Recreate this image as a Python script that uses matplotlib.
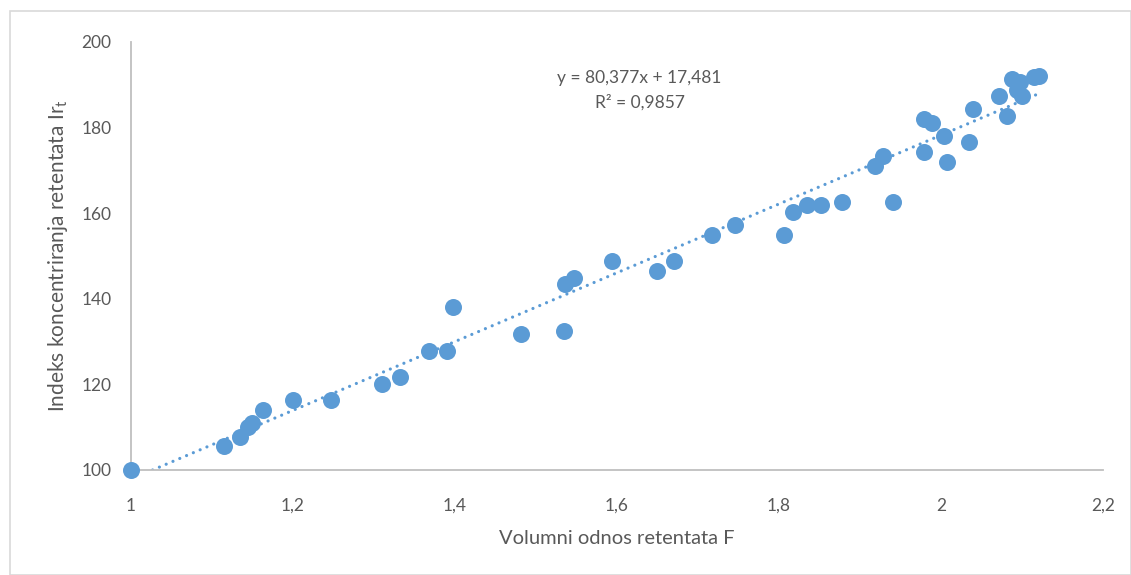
import matplotlib
matplotlib.use("Agg")
import matplotlib.pyplot as plt
import numpy as np
from matplotlib.patches import Rectangle

# Data
F = [1.000, 1.115, 1.134, 1.145, 1.150, 1.163, 1.200, 1.247, 1.310, 1.332,
     1.368, 1.390, 1.397, 1.481, 1.535, 1.536, 1.547, 1.594, 1.649, 1.670,
     1.717, 1.746, 1.806, 1.817, 1.835, 1.852, 1.878, 1.941, 1.918, 1.928,
     1.979, 1.989, 1.979, 2.004, 2.007, 2.034, 2.040, 2.072, 2.081, 2.088,
     2.098, 2.094, 2.100, 2.115, 2.121]
Ir = [100.0, 105.6, 107.8, 110.1, 110.9, 114.0, 116.4, 116.4, 120.1, 121.7,
      127.9, 127.9, 138.0, 131.7, 132.5, 143.4, 144.9, 148.8, 146.4, 148.8,
      154.8, 157.2, 154.8, 160.3, 162.0, 161.9, 162.6, 162.6, 171.1, 173.4,
      181.9, 181.1, 174.2, 178.0, 171.9, 176.6, 184.3, 187.4, 182.7, 191.3,
      190.6, 188.9, 187.4, 191.8, 192.1]
slope = 80.377
intercept = 17.481
r2_text = "R² = 0,9857"
eq_text = "y = 80,377x + 17,481"
xticks = [1.0, 1.2, 1.4, 1.6, 1.8, 2.0, 2.2]
xticklabels = ["1", "1,2", "1,4", "1,6", "1,8", "2", "2,2"]
yticks = [100, 120, 140, 160, 180, 200]

plt.rcParams['font.family'] = ['Lato', 'DejaVu Sans']
txt = '#595959'
blue = '#5B9BD5'

fig = plt.figure(figsize=(11.31, 5.75), dpi=100)
ax = fig.add_axes([131/1131, 1-470/575, (1103-131)/1131, (470-42)/575])

ax.scatter(F, Ir, s=150, color=blue, zorder=3, linewidths=0, clip_on=False)

xl = np.linspace((100 - intercept) / slope, max(F) + 0.004, 200)
ax.plot(xl, slope * xl + intercept, linestyle=(0, (0.01, 2.3)), color=blue,
        linewidth=2.3, dash_capstyle='round', zorder=2)

ax.set_xlim(1, 2.2)
ax.set_ylim(100, 200)
ax.set_xticks(xticks)
ax.set_xticklabels(xticklabels)
ax.set_yticks(yticks)
ax.tick_params(axis='both', length=0, labelsize=12.5, colors=txt)
ax.tick_params(axis='x', pad=20)
ax.tick_params(axis='y', pad=14)
for s in ['top', 'right']:
    ax.spines[s].set_visible(False)
for s in ['left', 'bottom']:
    ax.spines[s].set_color('#BFBFBF')
    ax.spines[s].set_linewidth(1.3)

ax.set_xlabel("Volumni odnos retentata F", fontsize=14.5, color=txt, labelpad=12)
ax.set_ylabel(r"Indeks koncentriranja retentata Ir$_\mathregular{t}$", fontsize=15,
              color=txt, labelpad=8)

ax.text(1.628, 191.6, eq_text, ha='center', va='center', fontsize=12.5, color=txt)
ax.text(1.628, 185.8, r2_text, ha='center', va='center', fontsize=12.5, color=txt)

fig.patches.append(Rectangle((10/1131, 0), 1 - 10/1131, 1 - 11/575, transform=fig.transFigure,
                             fill=False, edgecolor='#D9D9D9', linewidth=1.2))

fig.savefig("out.png", dpi=100)
